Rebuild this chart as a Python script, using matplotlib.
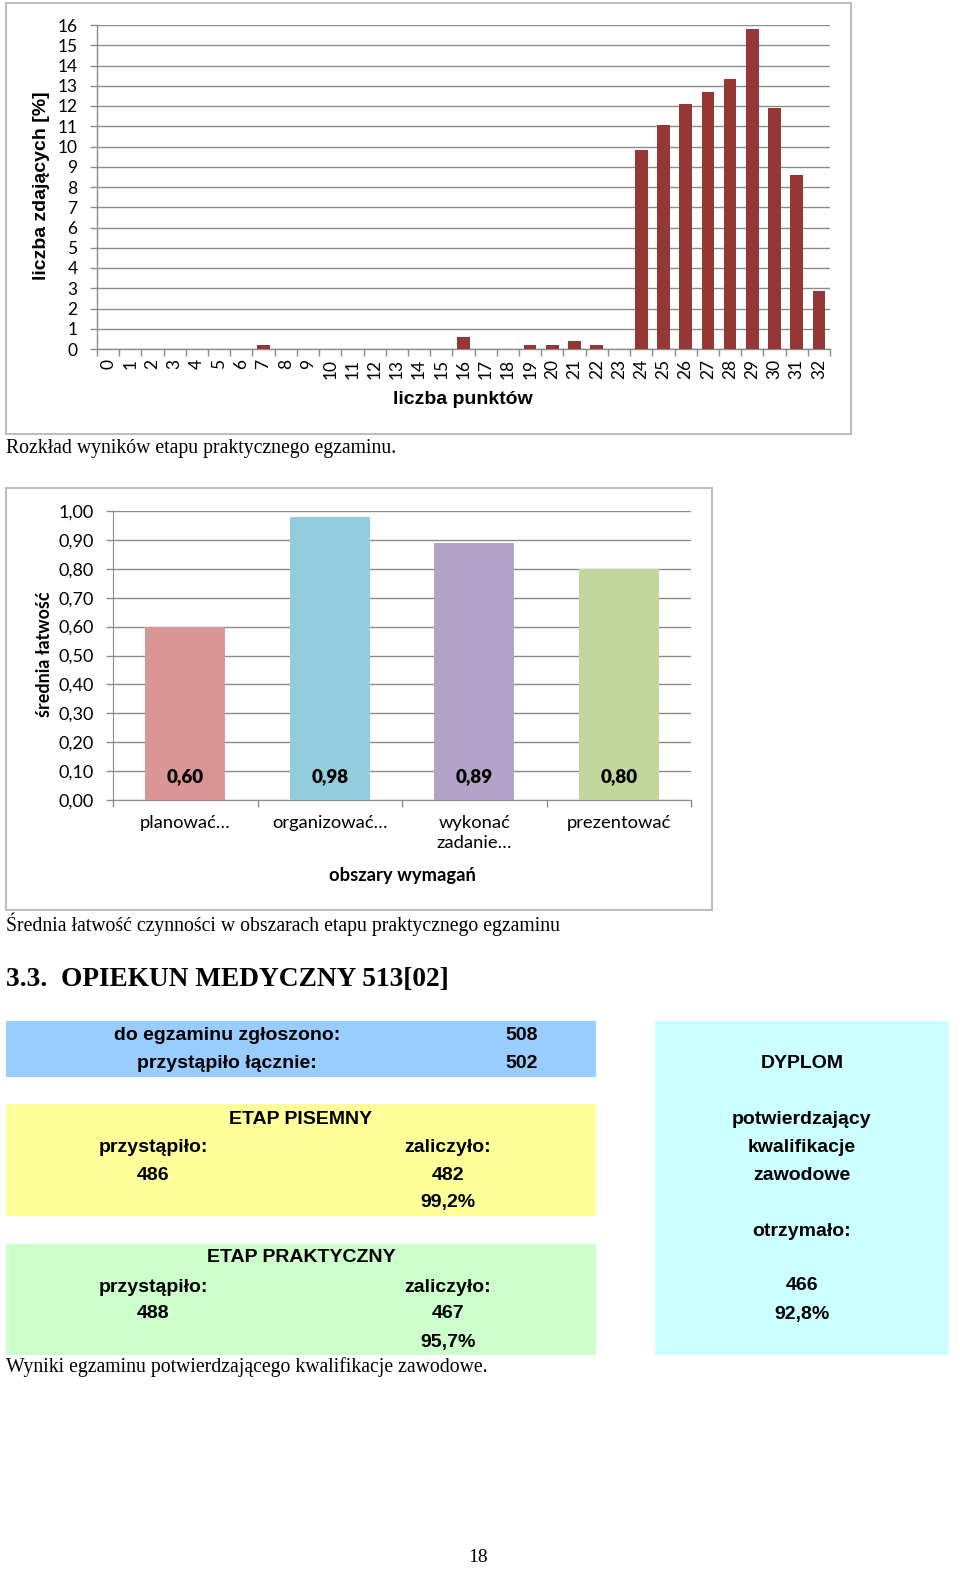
import matplotlib
matplotlib.use("Agg")
import matplotlib.pyplot as plt
from matplotlib.patches import Rectangle
from matplotlib.ticker import FixedLocator, FuncFormatter

# ---------------- data ----------------
points = list(range(33))
pct_passing = [0, 0, 0, 0, 0, 0, 0, 0.2, 0, 0, 0, 0, 0, 0, 0, 0,
               0.61, 0, 0, 0.2, 0.2, 0.41, 0.2, 0,
               9.84, 11.07, 12.09, 12.70, 13.32, 15.78, 11.89, 8.61, 2.87]
y1_ticks = list(range(17))

areas = ["planować…", "organizować…", "wykonać\nzadanie…", "prezentować"]
ease = [0.60, 0.98, 0.89, 0.80]
ease_colors = ["#D99694", "#93CDDD", "#B3A2C7", "#C3D69B"]
y2_ticks = [i / 10 for i in range(11)]

W, H = 960, 1575
fig = plt.figure(figsize=(W / 100, H / 100), dpi=100)
fig.patch.set_facecolor("white")

def fx(x):
    return x / W

def fy(y):
    return 1 - y / H

def rect(x0, y0, x1, y1, fc, ec="none", lw=0, z=-1):
    fig.patches.append(Rectangle((fx(x0), fy(y1)), fx(x1) - fx(x0), (y1 - y0) / H,
                                 transform=fig.transFigure, facecolor=fc,
                                 edgecolor=ec, linewidth=lw, zorder=z))

CAL = ["Lato", "DejaVu Sans"]
ARI = ["Liberation Sans", "DejaVu Sans"]
TIM = ["Liberation Serif", "DejaVu Serif"]
GRID = "#8C8C8C"

# ---------------- chart 1 frame ----------------
rect(6, 3, 851, 434, "white", ec="#BDBDBD", lw=1.5)

ax1 = fig.add_axes([fx(97), fy(349), (830 - 97) / W, (349 - 25) / H])
ax1.set_zorder(2)
ax1.patch.set_alpha(0)
ax1.bar(points, pct_passing, width=0.57, color="#953735", zorder=3)
ax1.set_xlim(-0.5, 32.5)
ax1.set_ylim(0, 16)
ax1.yaxis.set_major_locator(FixedLocator(y1_ticks))
ax1.set_yticklabels([str(t) for t in y1_ticks], family=CAL, fontsize=12.5)
ax1.set_xticks(points)
ax1.set_xticklabels([str(p) for p in points], rotation=90, family=CAL,
                    fontsize=12.5, va="top", ha="center")
ax1.xaxis.set_minor_locator(FixedLocator([p - 0.5 for p in points] + [32.5]))
ax1.tick_params(axis="x", which="major", length=0, pad=7)
ax1.tick_params(axis="x", which="minor", length=5, color=GRID, width=1)
ax1.tick_params(axis="y", length=5, color=GRID, width=1, pad=9)
ax1.grid(axis="y", color=GRID, linewidth=1, zorder=0)
for s in ["top", "right"]:
    ax1.spines[s].set_visible(False)
for s in ["left", "bottom"]:
    ax1.spines[s].set_color(GRID)
    ax1.spines[s].set_linewidth(1)
ax1.set_axisbelow(True)

fig.text(fx(42), fy(186), "liczba zdających [%]", rotation=90, ha="center",
         va="center", family=ARI, fontsize=14, fontweight="bold")
fig.text(fx(463), fy(399), "liczba punktów", ha="center", va="center",
         family=ARI, fontsize=14, fontweight="bold")

fig.text(fx(6), fy(449), "Rozkład wyników etapu praktycznego egzaminu.",
         ha="left", va="center", family=TIM, fontsize=14.2)

# ---------------- chart 2 frame ----------------
rect(6, 488, 712, 910, "white", ec="#BDBDBD", lw=1.5)

ax2 = fig.add_axes([fx(113), fy(800), (691 - 113) / W, (800 - 511) / H])
ax2.set_zorder(2)
ax2.patch.set_alpha(0)
xs = list(range(len(areas)))
ax2.bar(xs, ease, width=0.555, color=ease_colors, zorder=3)
ax2.set_xlim(-0.5, len(areas) - 0.5)
ax2.set_ylim(0, 1)
ax2.yaxis.set_major_locator(FixedLocator(y2_ticks))
ax2.yaxis.set_major_formatter(FuncFormatter(lambda v, p: f"{v:.2f}".replace(".", ",")))
ax2.tick_params(axis="y", labelsize=13, length=5, color=GRID, width=1, pad=9,
                labelfontfamily="Lato")
ax2.set_xticks(xs)
ax2.set_xticklabels(areas, family=CAL, fontsize=13.2, linespacing=1.32, va="top")
ax2.xaxis.set_minor_locator(FixedLocator([x - 0.5 for x in xs] + [len(areas) - 0.5]))
ax2.tick_params(axis="x", which="major", length=0, pad=11)
ax2.tick_params(axis="x", which="minor", length=5, color=GRID, width=1)
ax2.grid(axis="y", color=GRID, linewidth=1, zorder=0)
for s in ["top", "right"]:
    ax2.spines[s].set_visible(False)
for s in ["left", "bottom"]:
    ax2.spines[s].set_color(GRID)
ax2.set_axisbelow(True)
for x, v in zip(xs, ease):
    ax2.text(x, 0.08, f"{v:.2f}".replace(".", ","), ha="center", va="center",
             family=CAL, fontsize=13.5, fontweight="heavy", zorder=4)

fig.text(fx(45), fy(654), "średnia łatwość", rotation=90, ha="center",
         va="center", family=CAL, fontsize=12.9, fontweight="bold")
fig.text(fx(402), fy(875), "obszary wymagań", ha="center", va="center",
         family=CAL, fontsize=13.2, fontweight="bold")

fig.text(fx(6), fy(924),
         "Średnia łatwość czynności w obszarach etapu praktycznego egzaminu",
         ha="left", va="center", family=TIM, fontsize=14.2)

fig.text(fx(6), fy(979), "3.3.  OPIEKUN MEDYCZNY 513[02]", ha="left", va="center",
         family=TIM, fontsize=19.7, fontweight="bold")

# ---------------- summary boxes ----------------
rect(6, 1021, 596, 1077, "#99CCFF")
rect(6, 1104, 596, 1216, "#FFFF99")
rect(6, 1244, 596, 1355, "#CCFFCC")
rect(655, 1021, 949, 1355, "#CCFFFF")

def t(x, y, s):
    fig.text(fx(x), fy(y + 1), s, ha="center", va="center", family=ARI,
             fontsize=14, fontweight="bold", color="black")

t(227, 1035, "do egzaminu zgłoszono:")
t(522, 1035, "508")
t(227, 1063, "przystąpiło łącznie:")
t(522, 1063, "502")

t(301, 1118, "ETAP PISEMNY")
t(153, 1147, "przystąpiło:")
t(448, 1147, "zaliczyło:")
t(153, 1174, "486")
t(448, 1174, "482")
t(448, 1202, "99,2%")

t(301, 1257, "ETAP PRAKTYCZNY")
t(153, 1286, "przystąpiło:")
t(448, 1286, "zaliczyło:")
t(153, 1313, "488")
t(448, 1313, "467")
t(448, 1341, "95,7%")

t(802, 1063, "DYPLOM")
t(802, 1119, "potwierdzający")
t(802, 1147, "kwalifikacje")
t(802, 1175, "zawodowe")
t(802, 1230, "otrzymało:")
t(802, 1285, "466")
t(802, 1313, "92,8%")

fig.text(fx(6), fy(1367), "Wyniki egzaminu potwierdzającego kwalifikacje zawodowe.",
         ha="left", va="center", family=TIM, fontsize=14.2)

fig.text(fx(478), fy(1558), "18", ha="center", va="center", family=TIM, fontsize=14)

fig.savefig("out.png", dpi=100)
